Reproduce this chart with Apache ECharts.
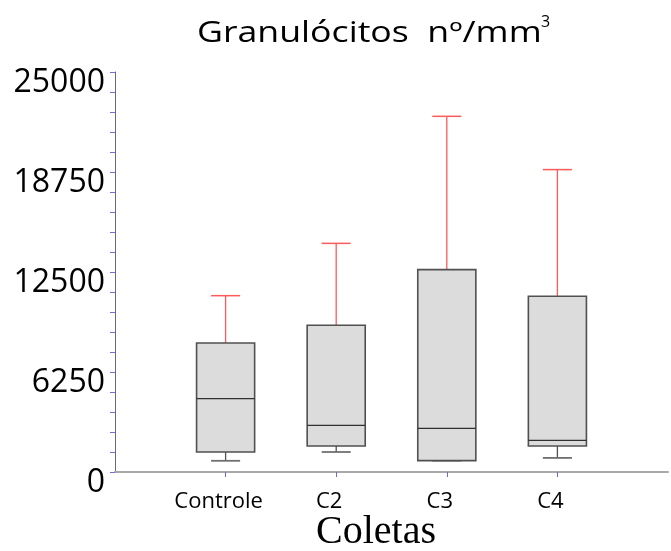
<!DOCTYPE html>
<html>
<head>
<meta charset="utf-8">
<script src="https://cdn.jsdelivr.net/npm/echarts@6/dist/echarts.min.js"></script>
<style>html,body{margin:0;padding:0;background:#fff}#c{width:671px;height:551px}</style>
</head>
<body>
<div id="c"></div>
<script>
const categories = ['Controle', 'C2', 'C3', 'C4'];
const mins    = [700, 1250, 710, 880];
const q1s     = [1250, 1625, 710, 1625];
const medians = [4580, 2920, 2730, 1980];
const q3s     = [8060, 9170, 12650, 10980];
const maxs    = [11020, 14290, 22230, 18900];
const yTicks  = [0, 6250, 12500, 18750, 25000];

const axisCats = [''].concat(categories, ['']);
const boxData = categories.map((c, i) => [i + 1, mins[i], q1s[i], medians[i], q3s[i], maxs[i]]);

const chart = echarts.init(document.getElementById('c'), null, {renderer: 'canvas'});
chart.setOption({
  animation: false,
  backgroundColor: '#ffffff',
  graphic: [
    {type: 'text', left: 197, top: 19, scaleX: 1.23, scaleY: 1,
     style: {text: 'Granulócitos  nº/mm', font: 'normal 29px "Open Sans"', fill: '#000'}},
    {type: 'text', left: 541, top: 14,
     style: {text: '3', font: 'normal 16px "Open Sans"', fill: '#000'}},
    {type: 'text', left: 316, top: 512,
     style: {text: 'Coletas', font: '40px "Liberation Serif"', fill: '#000'}}
  ],
  grid: {left: 115, right: -6, top: 72, bottom: 79, containLabel: false},
  xAxis: {
    type: 'category', data: axisCats, boundaryGap: false,
    axisLine: {lineStyle: {color: '#a8a8a8', width: 2}},
    axisTick: {show: true, length: 5, interval: (i, v) => v !== '', lineStyle: {color: '#6a6ad0', width: 1}},
    axisLabel: {fontFamily: 'Open Sans', fontSize: 22, color: '#000', margin: 19, interval: 0,
                padding: [0, 14, 0, 0]},
    splitLine: {show: false}
  },
  yAxis: {
    type: 'value', min: 0, max: 25000, interval: 6250,
    axisLine: {show: true, lineStyle: {color: '#6a6a6a', width: 1}},
    axisTick: {show: true, length: 5, lineStyle: {color: '#7070d8', width: 1}},
    minorTick: {show: true, splitNumber: 5, length: 5, lineStyle: {color: '#7070d8', width: 1}},
    axisLabel: {
      fontFamily: 'Open Sans', fontSize: 32, color: '#000', margin: 10,
      verticalAlign: 'top', lineHeight: 22,
      formatter: v => yTicks.includes(v) ? String(v) : ''
    },
    splitLine: {show: false}
  },
  series: [{
    type: 'custom',
    data: boxData,
    encode: {x: 0, y: [1, 2, 3, 4, 5]},
    renderItem: function (params, api) {
      const x = api.value(0);
      const pMin = api.coord([x, api.value(1)]);
      const pQ1 = api.coord([x, api.value(2)]);
      const pMed = api.coord([x, api.value(3)]);
      const pQ3 = api.coord([x, api.value(4)]);
      const pMax = api.coord([x, api.value(5)]);
      const band = api.size([1, 0])[0];
      const hw = band * 0.2625;
      const cw = hw / 2;
      const cx = pMed[0];
      const dark = '#505050';
      const red = '#ff5a5a';
      return {
        type: 'group',
        children: [
          {type: 'line', shape: {x1: cx, y1: pQ3[1], x2: cx, y2: pMax[1]}, style: {stroke: red, lineWidth: 1.3}},
          {type: 'line', shape: {x1: cx - cw, y1: pMax[1], x2: cx + cw, y2: pMax[1]}, style: {stroke: red, lineWidth: 1.5}},
          {type: 'line', shape: {x1: cx, y1: pQ1[1], x2: cx, y2: pMin[1]}, style: {stroke: dark, lineWidth: 1.3}},
          {type: 'line', shape: {x1: cx - cw, y1: pMin[1], x2: cx + cw, y2: pMin[1]}, style: {stroke: '#707070', lineWidth: 1.8}},
          {type: 'rect', shape: {x: cx - hw, y: pQ3[1], width: hw * 2, height: pQ1[1] - pQ3[1]},
           style: {fill: '#dcdcdc', stroke: dark, lineWidth: 1.6}},
          {type: 'line', shape: {x1: cx - hw, y1: pMed[1], x2: cx + hw, y2: pMed[1]}, style: {stroke: '#303030', lineWidth: 1.3}}
        ]
      };
    }
  }]
});
</script>
</body>
</html>
